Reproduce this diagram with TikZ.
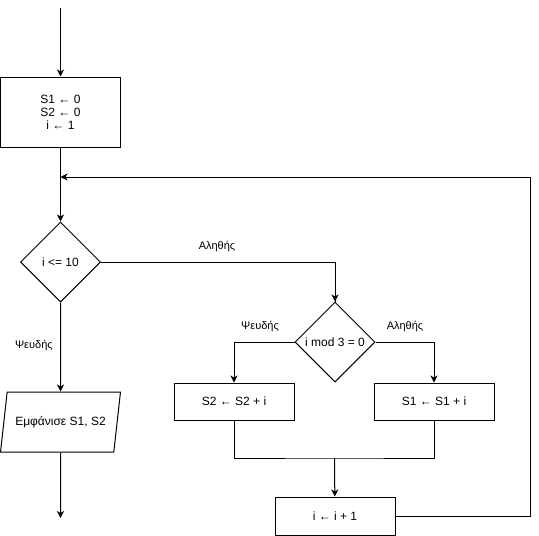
\documentclass[tikz,border=0pt]{standalone}
\usepackage{fontspec}
\setmainfont{Liberation Sans}
\usetikzlibrary{arrows.meta,shapes.geometric,positioning,calc}

\begin{document}
\begin{tikzpicture}[x=1pt, y=-1pt, line/.style={>={Stealth[length=7pt,width=7pt,inset=2pt]}, line width=1pt},
        box/.style={draw, line width=1pt, minimum width=120pt, font=\fontsize{12}{13}\selectfont, align=center},
        cond/.style={draw, line width=1pt, diamond, inner sep=0pt, minimum size=80pt, font=\fontsize{12}{13}\selectfont},
        lbl/.style={font=\fontsize{11}{12}\selectfont}]
        \useasboundingbox (0, 0) rectangle (539, 536);

        \coordinate (start) at (60.5, 8);
        \coordinate (stop) at (60.5, 518);
        \node[box, minimum height=70pt] (init) at (60.5, 112) {S1 ← 0\\S2 ← 0\\i ← 1};
        \node[cond] (loop) at (60.5, 262) {i <= 10};
        \node[cond] (mod) at (335, 342) {i mod 3 = 0};
        \node[box, minimum height=37pt] (addtwo) at (234, 401.5) {S2 ← S2 + i};
        \node[box, minimum height=37pt] (addone) at (434, 401.5) {S1 ← S1 + i};
        \node[box, minimum height=38pt] (inc) at (335, 516) {i ← i + 1};
        \node[draw, line width=1pt, trapezium, trapezium stretches=true, trapezium left angle=71.6, trapezium right angle=108.4,
            minimum width=120pt, minimum height=60pt, font=\fontsize{12}{13}\selectfont] (show) at (60.5, 422) {Εμφάνισε S1, S2};

        \coordinate (back) at (530, 177);
        \coordinate (join) at (334.5, 458);

        \draw[->, line] (start) -- (init);
        \draw[->, line] (init) -- (loop);
        \draw[-, line] (loop.east) -| node[lbl, pos=0.5, above=6pt, xshift=-118pt] {Αληθής} (mod.north) ;
        \draw[->, line] ($(mod.north)+(0,-9)$) -- (mod.north);
        \draw[->, line] (mod.west) -| (addtwo.north) node[lbl, pos=0.5, above=6pt, xshift=26pt] {Ψευδής};
        \draw[->, line] (mod.east) -| (addone.north) node[lbl, pos=0.5, above=6pt, xshift=-29pt] {Αληθής};
        \draw[-, line] (addtwo.south) |- (join) -| (addone.south);
        \draw[->, line] (join) -- (inc);
        \draw[->, line] (inc.east) -| (back) -- (60.5, 177);
        \draw[->, line] (loop.south) -- node[lbl, left=4pt, pos=0.48] {Ψευδής} (show.north);
        \draw[->, line] (show.south) -- (stop);
\end{tikzpicture}
\end{document}
